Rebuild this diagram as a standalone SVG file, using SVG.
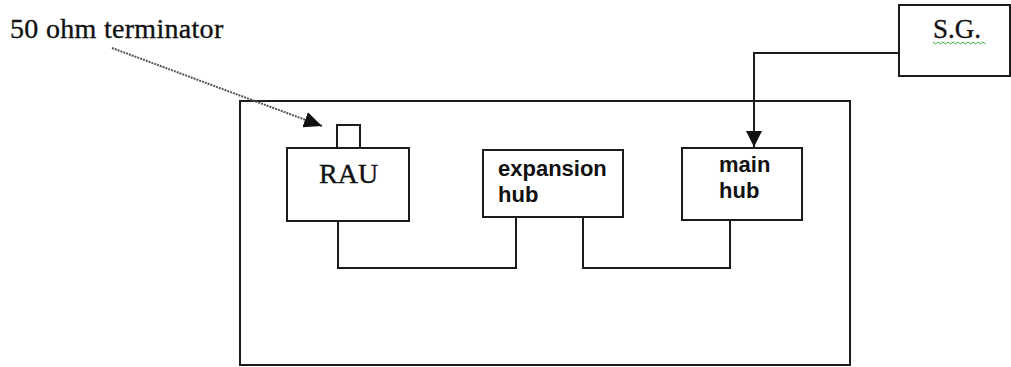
<svg xmlns="http://www.w3.org/2000/svg" width="1011" height="367" viewBox="0 0 1011 367">
  <style>
    .box { fill: #ffffff; stroke: #1c1c1c; stroke-width: 2; }
    .wire { fill: none; stroke: #1c1c1c; stroke-width: 2; }
    .serif { font-family: "Liberation Serif", "Times New Roman", serif; fill: #111111; stroke: #111111; stroke-width: 0.35; }
    .sans { font-family: "Liberation Sans", Arial, sans-serif; font-weight: bold; fill: #111111; }
  </style>
  <defs>
    <marker id="arrowDown" markerUnits="userSpaceOnUse" markerWidth="16" markerHeight="16" viewBox="0 0 16 16" refX="16" refY="8" orient="auto">
      <path d="M0,0 L16,8 L0,16 Z" fill="#111111"/>
    </marker>
    <marker id="arrowNote" markerUnits="userSpaceOnUse" markerWidth="18" markerHeight="16" viewBox="0 0 18 16" refX="18" refY="8" orient="auto">
      <path d="M0,0 L18,8 L0,16 Z" fill="#111111"/>
    </marker>
  </defs>

  <!-- enclosure -->
  <g id="enclosure">
    <rect class="box" x="240" y="101" width="610" height="264"/>
  </g>

  <!-- connectors -->
  <g id="connectors">
    <polyline class="wire" points="338,221 338,268 516,268 516,217"/>
    <polyline class="wire" points="583,217 583,268 730,268 730,220"/>
    <polyline class="wire" points="899,53 754,53 754,147" marker-end="url(#arrowDown)"/>
    <line x1="112" y1="48" x2="322" y2="126" stroke="#555555" stroke-width="2" stroke-dasharray="2 1" marker-end="url(#arrowNote)"/>
  </g>

  <!-- terminator label -->
  <g id="terminator-label">
    <text class="serif" x="10" y="38" font-size="28" letter-spacing="0.3">50 ohm terminator</text>
  </g>

  <!-- RAU with terminator stub -->
  <g id="rau">
    <rect class="box" x="337" y="125" width="23" height="23"/>
    <rect class="box" x="287" y="148" width="122" height="73"/>
    <text class="serif" x="319" y="183" font-size="28">RAU</text>
  </g>

  <!-- expansion hub -->
  <g id="expansion-hub">
    <rect class="box" x="483" y="150" width="140" height="67"/>
    <text class="sans" x="498" y="176" font-size="22">expansion</text>
    <text class="sans" x="498" y="202" font-size="22">hub</text>
  </g>

  <!-- main hub -->
  <g id="main-hub">
    <rect class="box" x="682" y="148" width="120" height="72"/>
    <text class="sans" x="719" y="172" font-size="22">main</text>
    <text class="sans" x="719" y="198" font-size="22">hub</text>
  </g>

  <!-- signal generator -->
  <g id="signal-generator">
    <rect class="box" x="899" y="5" width="111" height="71"/>
    <text class="serif" x="933" y="38" font-size="27">S.G.</text>
    <path d="M933,42 l2.5,2 l2.5,-2 l2.5,2 l2.5,-2 l2.5,2 l2.5,-2 l2.5,2 l2.5,-2 l2.5,2 l2.5,-2 l2.5,2 l2.5,-2 l2.5,2 l2.5,-2 l2.5,2 l2.5,-2 l2.5,2 l2.5,-2 l2.5,2 l2.5,-2 l2.5,2" fill="none" stroke="#3cb33c" stroke-width="1"/>
  </g>
</svg>
